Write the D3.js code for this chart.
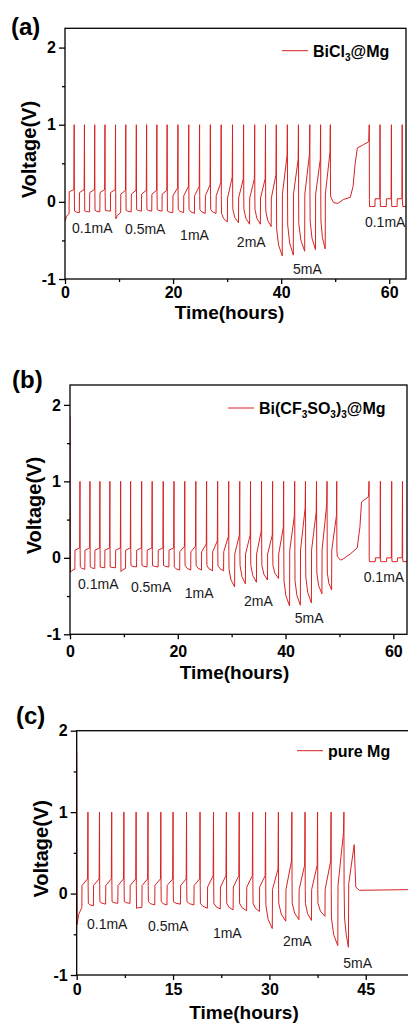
<!DOCTYPE html>
<html>
<head>
<meta charset="utf-8">
<script src="https://cdn.jsdelivr.net/npm/d3@7"></script>
<style>
body { margin: 0; background: #fff; }
svg text { font-family: "Liberation Sans", Arial, sans-serif; }
</style>
</head>
<body>
<svg id="fig" width="408" height="1023"></svg>
<script>
// ---- values (time in hours, voltage in V) ----
const CUTOFF_V = 1;

// (a) BiCl3@Mg
const spikesA   = [1.7, 3.6, 5.5, 7.4, 9.35, 11.25, 13.2, 15.1, 17.0, 18.9, 20.9, 22.9, 24.9, 26.9, 28.9, 31.0, 33.05, 35.1, 37.1, 39.1, 41.15, 43.2, 45.3, 47.3, 49.1];
const loStartA  = [-0.24, -0.12, -0.12, -0.11, -0.11, -0.22, -0.11, -0.10, -0.10, -0.10, -0.12, -0.10, -0.10, -0.10, -0.10, -0.15, -0.10, -0.10, -0.10, -0.12, -0.35, -0.30, -0.28, -0.25, -0.25];
const loEndA    = [-0.15, -0.14, -0.13, -0.13, -0.12, -0.14, -0.13, -0.12, -0.12, -0.12, -0.14, -0.14, -0.15, -0.15, -0.15, -0.26, -0.27, -0.29, -0.29, -0.32, -0.70, -0.69, -0.64, -0.62, -0.61];
const hiStartA  = [0.13, 0.12, 0.12, 0.12, 0.12, 0.10, 0.10, 0.10, 0.10, 0.10, 0.08, 0.08, 0.08, 0.08, 0.08, 0.05, 0.05, 0.05, 0.05, 0.05, 0.10, 0.10, 0.10, 0.10, 0.10];
const hiEndA    = [0.16, 0.16, 0.16, 0.16, 0.16, 0.15, 0.15, 0.15, 0.15, 0.15, 0.18, 0.20, 0.20, 0.22, 0.25, 0.32, 0.30, 0.30, 0.30, 0.35, 0.60, 0.55, 0.62, 0.55, 0.65];
const restA     = [[49.2, 0.06], [49.7, -0.01], [50.5, -0.02], [51.5, 0.03], [52.8, 0.06], [53.3, 0.2], [53.7, 0.5], [54.1, 0.7], [55.2, 0.74], [56.2, 0.78]];
const postSpikesA = [56.3, 58.3, 60.4, 62.4];
const postLoA   = [-0.06, -0.06, -0.06, -0.06];
const postHiA   = [0.03, 0.04, 0.04, 0.04];
const labelTextA = ["0.1mA", "0.5mA", "1mA", "2mA", "5mA", "0.1mA"];
const labelTA    = [1.3, 11.1, 21.3, 31.8, 42.2, 55.5];
const labelVA    = [-0.41, -0.42, -0.49, -0.59, -0.94, -0.32];

// (b) Bi(CF3SO3)3@Mg
const spikesB   = [1.85, 3.7, 5.55, 7.4, 9.4, 11.25, 13.3, 15.25, 17.3, 19.3, 21.3, 23.35, 25.35, 27.4, 29.45, 31.5, 33.5, 35.55, 37.6, 39.65, 41.7, 43.7, 45.75, 47.7, 49.5];
const loStartB  = [-0.19, -0.12, -0.12, -0.12, -0.12, -0.18, -0.10, -0.10, -0.10, -0.10, -0.12, -0.10, -0.10, -0.10, -0.10, -0.15, -0.10, -0.10, -0.10, -0.10, -0.30, -0.30, -0.25, -0.20, -0.20];
const loEndB    = [-0.15, -0.15, -0.14, -0.13, -0.13, -0.14, -0.12, -0.12, -0.12, -0.12, -0.16, -0.16, -0.16, -0.17, -0.17, -0.38, -0.34, -0.32, -0.29, -0.27, -0.63, -0.62, -0.59, -0.47, -0.42];
const hiStartB  = [0.10, 0.10, 0.10, 0.10, 0.10, 0.10, 0.10, 0.10, 0.10, 0.10, 0.08, 0.08, 0.08, 0.08, 0.08, 0.05, 0.05, 0.05, 0.05, 0.05, 0.10, 0.10, 0.10, 0.10, 0.10];
const hiEndB    = [0.13, 0.13, 0.13, 0.13, 0.13, 0.13, 0.13, 0.13, 0.13, 0.13, 0.15, 0.15, 0.18, 0.22, 0.28, 0.30, 0.30, 0.35, 0.30, 0.40, 0.55, 0.65, 0.60, 0.70, 0.55];
const restB     = [[49.6, 0.02], [50.2, -0.03], [50.8, -0.01], [52.0, 0.05], [53.3, 0.13], [53.8, 0.4], [54.1, 0.73], [55.4, 0.8]];
const postSpikesB = [55.5, 57.6, 59.7, 61.7];
const postLoB   = [-0.05, -0.05, -0.05, -0.05];
const postHiB   = [0.0, 0.0, 0.0, 0.0];
const labelTextB = ["0.1mA", "0.5mA", "1mA", "2mA", "5mA", "0.1mA"];
const labelTB    = [1.5, 11.3, 21.3, 32.3, 41.7, 54.5];
const labelVB    = [-0.41, -0.45, -0.53, -0.63, -0.85, -0.32];

// (c) pure Mg
const spikesC   = [1.75, 3.55, 5.45, 7.35, 9.25, 11.1, 13.1, 15.0, 17.1, 19.2, 21.3, 23.3, 25.3, 27.4, 29.4, 31.4, 33.5, 35.55, 37.5, 39.6, 41.6];
const loStartC  = [-0.38, -0.12, -0.10, -0.10, -0.10, -0.18, -0.10, -0.10, -0.10, -0.10, -0.12, -0.12, -0.12, -0.12, -0.12, -0.15, -0.12, -0.12, -0.12, -0.12, -0.30];
const loEndC    = [-0.17, -0.15, -0.13, -0.12, -0.12, -0.17, -0.14, -0.14, -0.13, -0.14, -0.18, -0.19, -0.20, -0.21, -0.22, -0.43, -0.34, -0.32, -0.33, -0.28, -0.64];
const hiStartC  = [0.10, 0.10, 0.10, 0.10, 0.10, 0.10, 0.10, 0.10, 0.10, 0.10, 0.08, 0.08, 0.08, 0.08, 0.08, 0.05, 0.05, 0.05, 0.05, 0.05, 0.10];
const hiEndC    = [0.18, 0.18, 0.18, 0.18, 0.18, 0.18, 0.18, 0.18, 0.18, 0.18, 0.22, 0.22, 0.22, 0.22, 0.22, 0.30, 0.40, 0.35, 0.35, 0.40, 0.75];
const restC     = [[41.7, -0.3], [41.95, -0.5], [42.3, -0.66], [42.35, 0.12], [43.2, 0.6], [43.45, 0.08], [44.0, 0.04], [53, 0.05]];
const labelTextC = ["0.1mA", "0.5mA", "1mA", "2mA", "5mA"];
const labelTC    = [1.6, 11.1, 21.2, 32.1, 41.5];
const labelVC    = [-0.44, -0.46, -0.54, -0.65, -0.92];

// build the polyline of one galvanostatic run
function appendCycles(pts, spikes, loS, loE, hiS, hiE, skipFirst) {
  let p = pts[pts.length - 1][0];
  spikes.forEach((s, i) => {
    if (!(skipFirst && i === 0)) {
      const a = p + 0.06, b = s - 0.95;
      pts.push([a, loS[i]]);
      pts.push([a + (b - a) * 0.35, loS[i] + (loE[i] - loS[i]) * 0.6]);
      pts.push([b, loE[i]]);
      pts.push([b + 0.03, hiS[i]]);
      pts.push([s - 0.06, hiE[i]]);
    }
    pts.push([s, CUTOFF_V]);
    pts.push([s + 0.03, hiS[i]]);
    p = s;
  });
  return pts;
}

const traceA = appendCycles([[0, -0.25]], spikesA, loStartA, loEndA, hiStartA, hiEndA);
restA.forEach(d => traceA.push(d));
appendCycles(traceA, postSpikesA, postLoA, postLoA, postHiA, postHiA, true);
traceA.push([62.5, -0.06], [65, -0.06]);

const traceB = appendCycles([[0, 1.85]], spikesB, loStartB, loEndB, hiStartB, hiEndB);
restB.forEach(d => traceB.push(d));
appendCycles(traceB, postSpikesB, postLoB, postLoB, postHiB, postHiB, true);
traceB.push([61.8, -0.05], [65, -0.05]);

const traceC = appendCycles([[0, 1.75]], spikesC, loStartC, loEndC, hiStartC, hiEndC);
restC.forEach(d => traceC.push(d));

const RED = "#d82222";

const panels = [
  { id: "a", tag: "(a)", tagX: 11, tagY: 35, left: 65, right: 406, top: 28.3, bottom: 279,
    xMax: 63.1, yMax: 2.25, xMajor: [0, 20, 40, 60], xMinor: [10, 30, 50], pad: 3,
    titleX: 229.5, titleY: 319, legX: 282, legY: 50.7,
    legend: [["BiCl", 0], ["3", 1], ["@Mg", 0]],
    trace: traceA, lt: labelTextA, lx: labelTA, ly: labelVA },
  { id: "b", tag: "(b)", tagX: 12, tagY: 388, left: 70, right: 407, top: 385, bottom: 634.3,
    xMax: 62.54, yMax: 2.26, xMajor: [0, 20, 40, 60], xMinor: [10, 30, 50], pad: 6,
    titleX: 234.5, titleY: 679, legX: 228, legY: 408,
    legend: [["Bi(CF", 0], ["3", 1], ["SO", 0], ["3", 1], [")", 0], ["3", 1], ["@Mg", 0]],
    trace: traceB, lt: labelTextB, lx: labelTB, ly: labelVB },
  { id: "c", tag: "(c)", tagX: 16, tagY: 724, left: 76.7, right: 412, top: 730.7, bottom: 975,
    xMax: 52.2, yMax: 2, xMajor: [0, 15, 30, 45], xMinor: [7.5, 22.5, 37.5], pad: 4,
    titleX: 244, titleY: 1019, legX: 297, legY: 750.7,
    legend: [["pure Mg", 0]],
    trace: traceC, lt: labelTextC, lx: labelTC, ly: labelVC }
];

const svg = d3.select("#fig");

panels.forEach(cfg => {
  const x = d3.scaleLinear().domain([0, cfg.xMax]).range([cfg.left, cfg.right]);
  const y = d3.scaleLinear().domain([-1, cfg.yMax]).range([cfg.bottom, cfg.top]);
  const g = svg.append("g");

  g.append("clipPath").attr("id", "clip-" + cfg.id)
    .append("rect")
    .attr("x", cfg.left).attr("y", cfg.top)
    .attr("width", cfg.right - cfg.left).attr("height", cfg.bottom - cfg.top);

  // trace
  const line = d3.line().x(d => x(d[0])).y(d => y(d[1]));
  g.append("path")
    .datum(cfg.trace)
    .attr("clip-path", "url(#clip-" + cfg.id + ")")
    .attr("d", line)
    .attr("fill", "none")
    .attr("stroke", RED)
    .attr("stroke-width", 1)
    .attr("stroke-linejoin", "round");

  // axes (plain hyphen for negatives, like the original)
  const fmt = d => String(d);
  const xAx = g.append("g").attr("transform", `translate(0,${cfg.bottom})`)
    .call(d3.axisBottom(x).tickValues(cfg.xMajor).tickSize(5).tickSizeOuter(0)
      .tickPadding(cfg.pad).tickFormat(fmt));
  const xMin = g.append("g").attr("transform", `translate(0,${cfg.bottom})`)
    .call(d3.axisBottom(x).tickValues(cfg.xMinor).tickSize(3).tickSizeOuter(0).tickFormat(""));
  const yAx = g.append("g").attr("transform", `translate(${cfg.left},0)`)
    .call(d3.axisLeft(y).tickValues([-1, 0, 1, 2]).tickSize(6).tickSizeOuter(0)
      .tickPadding(3).tickFormat(fmt));
  const yMin = g.append("g").attr("transform", `translate(${cfg.left},0)`)
    .call(d3.axisLeft(y).tickValues([-0.5, 0.5, 1.5]).tickSize(3).tickSizeOuter(0).tickFormat(""));
  [xAx, xMin, yAx, yMin].forEach(a => {
    a.select(".domain").remove();
    a.selectAll("line").attr("stroke", "#000").attr("stroke-width", 1.3);
    a.selectAll("text").attr("fill", "#000").style("font-size", "16px").style("font-weight", "bold")
      .style("font-family", "'Liberation Sans', Arial, sans-serif");
  });

  // frame
  g.append("rect")
    .attr("x", cfg.left).attr("y", cfg.top)
    .attr("width", cfg.right - cfg.left).attr("height", cfg.bottom - cfg.top)
    .attr("fill", "none").attr("stroke", "#000").attr("stroke-width", 1.3);

  // titles
  g.append("text")
    .attr("x", cfg.titleX).attr("y", cfg.titleY)
    .attr("text-anchor", "middle")
    .style("font-size", "19px").style("font-weight", "bold")
    .text("Time(hours)");
  const cy = (cfg.top + cfg.bottom) / 2 - 4;
  g.append("text")
    .attr("transform", `translate(${cfg.left - 29},${cy}) rotate(-90)`)
    .attr("text-anchor", "middle")
    .style("font-size", "20px").style("font-weight", "bold")
    .text("Voltage(V)");
  g.append("text")
    .attr("x", cfg.tagX).attr("y", cfg.tagY)
    .style("font-size", "24px").style("font-weight", "bold")
    .text(cfg.tag);

  // current labels
  g.selectAll(".cur")
    .data(cfg.lt)
    .enter()
    .append("text")
    .attr("class", "cur")
    .attr("x", (d, i) => x(cfg.lx[i]))
    .attr("y", (d, i) => y(cfg.ly[i]))
    .attr("fill", "#1a1a1a")
    .style("font-size", "14px")
    .text(d => d);

  // legend
  g.append("line")
    .attr("x1", cfg.legX).attr("x2", cfg.legX + 26)
    .attr("y1", cfg.legY).attr("y2", cfg.legY)
    .attr("stroke", RED).attr("stroke-width", 1);
  const lt = g.append("text")
    .attr("x", cfg.legX + 31).attr("y", cfg.legY + 6)
    .style("font-size", "16px").style("font-weight", "bold");
  let shifted = false;
  cfg.legend.forEach(([s, sub]) => {
    const ts = lt.append("tspan").text(s);
    if (sub && !shifted) { ts.attr("dy", 4).style("font-size", "10px"); shifted = true; }
    else if (!sub && shifted) { ts.attr("dy", -4); shifted = false; }
    else if (sub) ts.style("font-size", "10px");
  });
});
</script>
</body>
</html>
